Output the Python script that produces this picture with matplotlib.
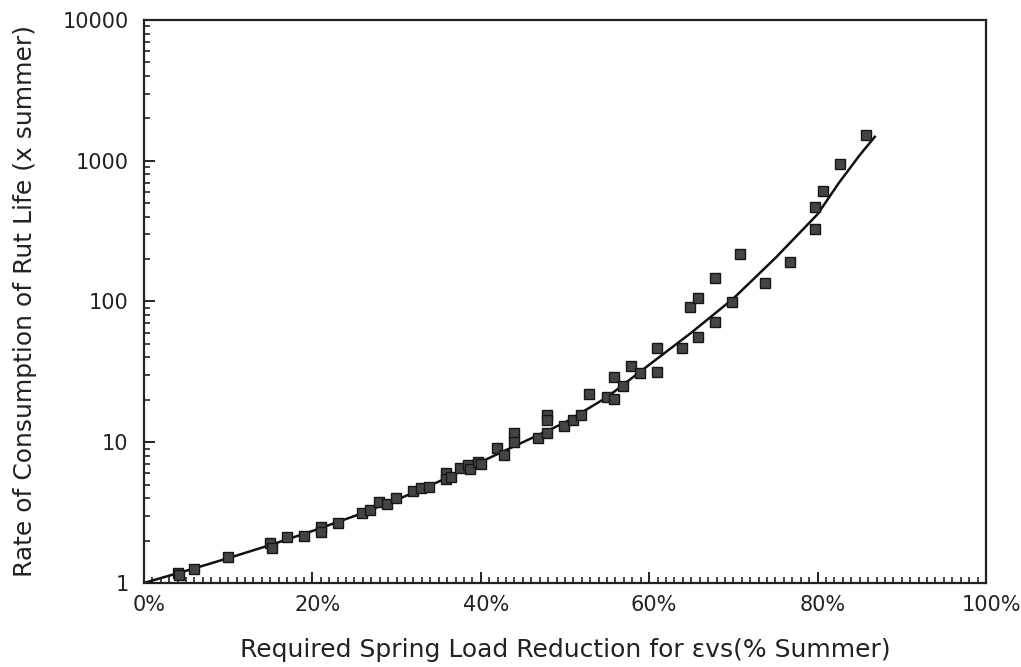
import numpy as np
import matplotlib
matplotlib.use("Agg")
import matplotlib.pyplot as plt
import matplotlib.transforms as mtransforms
from matplotlib.ticker import FixedLocator, MultipleLocator, LogLocator, NullFormatter

# measured points: load reduction (%) vs rate of consumption of rut life
reduction = [4, 4.2, 6, 10, 15, 15.2, 17, 19, 21, 21, 23, 25.9, 26.8, 27.9, 28.9, 29.9,
             31.9, 32.9, 33.8, 35.9, 35.9, 36.5, 37.5, 38.5, 38.7, 39.7, 40,
             41.9, 42.7, 43.9, 43.9, 46.8, 47.9, 47.9, 47.9, 49.9, 50.9, 51.9, 52.9,
             55, 55.8, 55.8, 56.9, 57.8, 58.9, 60.9, 60.9, 63.9, 64.8, 65.8, 65.8,
             67.8, 67.8, 69.8, 70.8, 73.8, 76.7, 79.7, 79.7, 80.7, 82.7, 85.7]
consumption = [1.18, 1.13, 1.25, 1.54, 1.91, 1.76, 2.13, 2.16, 2.51, 2.32, 2.65, 3.13, 3.3, 3.78, 3.64, 4.0,
               4.53, 4.7, 4.78, 6.0, 5.45, 5.7, 6.6, 6.9, 6.5, 7.2, 7.0,
               9.05, 8.1, 11.6, 10.1, 10.7, 15.6, 14.4, 11.6, 13.0, 14.4, 15.6, 22.0,
               21.1, 20.4, 29.2, 25.1, 34.8, 30.9, 46.5, 31.3, 46.8, 91.8, 106.6, 56.3,
               71.7, 148, 99.8, 219, 136, 191, 327, 470, 611, 946, 1513]

# fitted curve
fit_x = [0, 5, 10, 15, 20, 25, 30, 35, 40, 45, 50, 55, 60, 65, 70, 75, 80, 82.5, 85, 86.8]
fit_y = [1.0, 1.22, 1.5, 1.86, 2.34, 2.99, 3.89, 5.25, 7.24, 10.0, 13.8, 20.9, 35.5,
         60, 105, 204, 417, 692, 1096, 1480]

x_ticks = [0, 20, 40, 60, 80, 100]
y_ticks = [1, 10, 100, 1000, 10000]

fig = plt.figure(figsize=(10.21, 6.67), dpi=100)
ax = fig.add_axes([0.141, 0.126, 0.8247, 0.844])

ax.plot(fit_x, fit_y, color="#111111", lw=1.8, zorder=2)
ax.plot(reduction, consumption, ls="none", marker="s", ms=7,
        mfc="#444444", mec="#151515", mew=1.0, zorder=3)

ax.set_yscale("log")
ax.set_xlim(0, 100)
ax.set_ylim(1, 10000)

ax.xaxis.set_major_locator(FixedLocator(x_ticks))
ax.xaxis.set_minor_locator(MultipleLocator(1))
ax.set_xticklabels([f"{t}%" for t in x_ticks])
ax.yaxis.set_major_locator(FixedLocator(y_ticks))
ax.yaxis.set_minor_locator(LogLocator(base=10, subs=range(2, 10)))
ax.yaxis.set_minor_formatter(NullFormatter())
ax.set_yticklabels([str(t) for t in y_ticks])

ax.tick_params(axis="both", which="both", direction="in", top=False, right=False,
               color="#222222", labelsize=15, labelcolor="#222222")
ax.tick_params(axis="both", which="major", length=8, width=1.4)
ax.tick_params(axis="y", which="major", pad=11)
ax.tick_params(axis="x", which="major", pad=9)
ax.tick_params(axis="both", which="minor", length=4, width=1.2)

# percent labels sit slightly right of their ticks
shift = mtransforms.ScaledTranslation(5 / 100, 0, fig.dpi_scale_trans)
for lbl in ax.get_xticklabels():
    lbl.set_transform(lbl.get_transform() + shift)

for s in ax.spines.values():
    s.set_linewidth(1.6)
    s.set_color("#222222")

ax.set_xlabel("Required Spring Load Reduction for εvs(% Summer)", fontsize=18,
              color="#222222", labelpad=16)
ax.set_ylabel("Rate of Consumption of Rut Life (x summer)", fontsize=18,
              color="#222222", labelpad=18)

fig.savefig("out.png", dpi=100)
